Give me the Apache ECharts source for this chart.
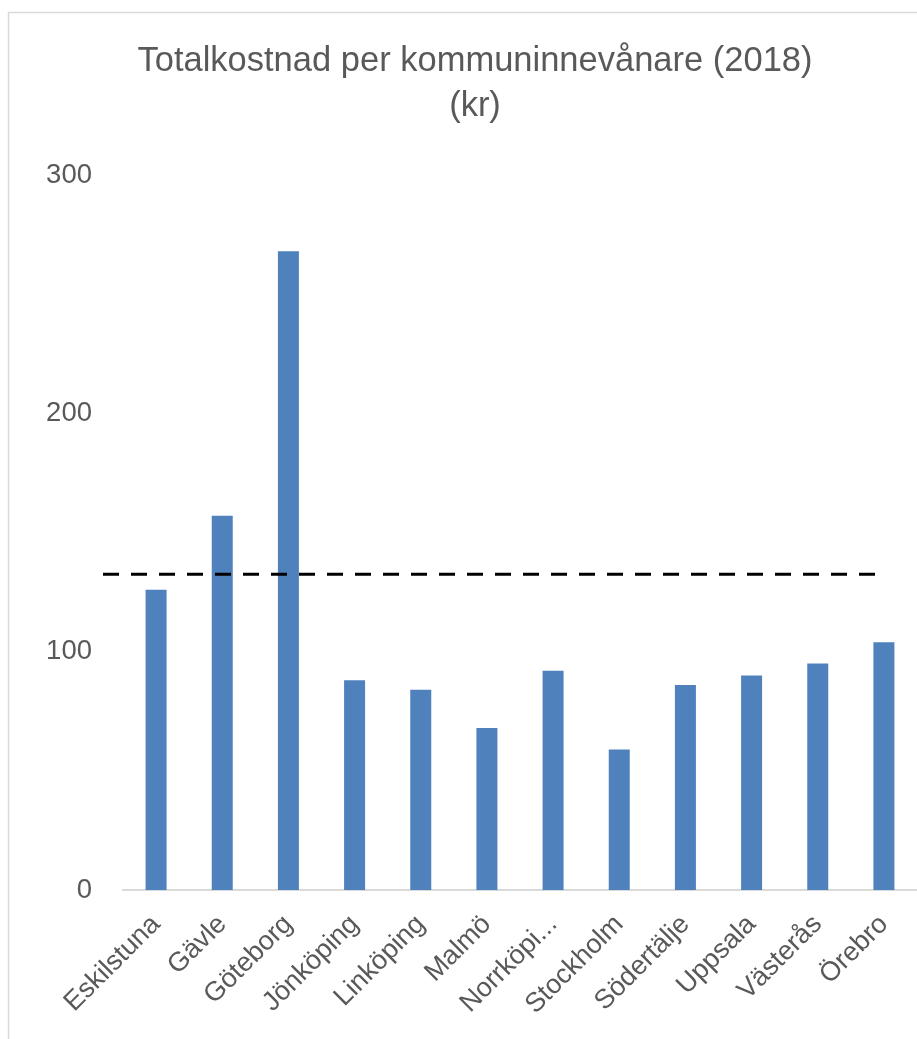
<!DOCTYPE html>
<html><head><meta charset="utf-8">
<script src="https://cdn.jsdelivr.net/npm/echarts@6/dist/echarts.min.js"></script>
<style>html,body{margin:0;padding:0;background:#fff}#c{width:917px;height:1039px}</style>
</head><body><div id="c"></div>
<script>
const categories = ["Eskilstuna","Gävle","Göteborg","Jönköping","Linköping","Malmö","Norrköping","Stockholm","Södertälje","Uppsala","Västerås","Örebro"];
const categoryLabels = ["Eskilstuna","Gävle","Göteborg","Jönköping","Linköping","Malmö","Norrköpi...","Stockholm","Södertälje","Uppsala","Västerås","Örebro"];
const values = [126, 157, 268, 88, 84, 68, 92, 59, 86, 90, 95, 104];
const averageValue = 132.5;
const averageSpan = [0, 1];
const yTicks = [0, 100, 200, 300];

const FONT = "Liberation Sans";
const chart = echarts.init(document.getElementById('c'));
chart.setOption({
  animation: false,
  backgroundColor: '#fff',
  graphic: [{type:'rect', shape:{x:8.5,y:12.5,width:1000,height:1100}, style:{fill:'none', stroke:'#d9d9d9', lineWidth:1.5}, silent:true, z:-1}],
  title: {
    text: 'Totalkostnad per kommuninnevånare (2018)\n(kr)',
    left: 470, top: 34, textAlign: 'center',
    textStyle: {fontFamily: FONT, fontSize: 34.5, fontWeight: 'normal', color: '#595959', lineHeight: 45}
  },
  grid: [
    {left: 123, right: -1, top: 175, bottom: 149, containLabel: false},
    {left: 103, right: 42, top: 175, bottom: 149, containLabel: false}
  ],
  xAxis: [{
    type: 'category', data: categories, gridIndex: 0,
    axisLine: {lineStyle: {color: '#d9d9d9', width: 2}},
    axisTick: {show: false},
    axisLabel: {rotate: 45, interval: 0, margin: 30, color: '#595959', fontFamily: FONT, fontSize: 27,
      formatter: (v, i) => categoryLabels[i]}
  }, {
    type: 'value', gridIndex: 1, min: averageSpan[0], max: averageSpan[1], show: false
  }],
  yAxis: [{
    type: 'value', gridIndex: 0, min: yTicks[0], max: yTicks[yTicks.length-1], interval: 100,
    axisLine: {show: false}, axisTick: {show: false}, splitLine: {show: false},
    axisLabel: {margin: 31, color: '#595959', fontFamily: FONT, fontSize: 27.5}
  }, {
    type: 'value', gridIndex: 1, min: yTicks[0], max: yTicks[yTicks.length-1], show: false
  }],
  series: [{
    type: 'bar', data: values, barWidth: 21, itemStyle: {color: '#4f81bd'}, xAxisIndex: 0, yAxisIndex: 0
  }, {
    type: 'line', xAxisIndex: 1, yAxisIndex: 1, symbol: 'none',
    data: averageSpan.map(x => [x, averageValue]),
    lineStyle: {color: '#000', width: 3, type: [16, 12]}, z: 5
  }]
});
</script></body></html>
